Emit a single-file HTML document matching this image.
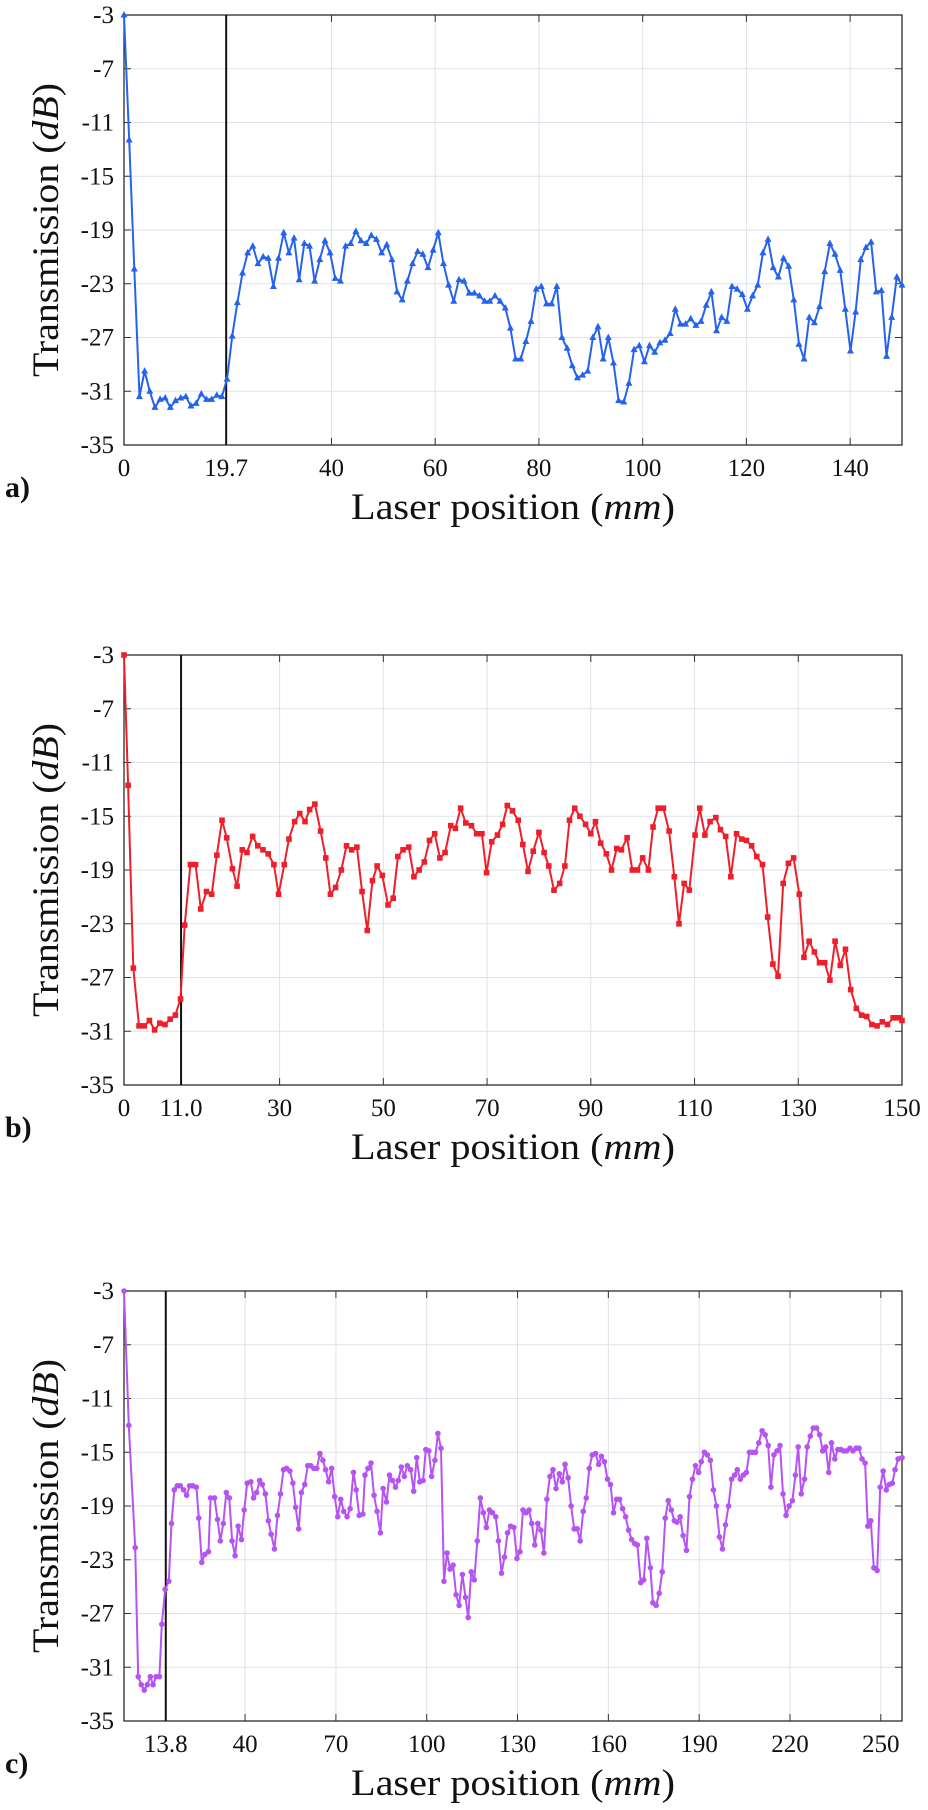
<!DOCTYPE html>
<html><head><meta charset="utf-8">
<style>
html,body{margin:0;padding:0;background:#fff;}
svg{display:block;}
text{font-family:"Liberation Serif",serif;fill:#111;}
</style></head>
<body>
<svg id="fig" width="928" height="1810" viewBox="0 0 928 1810" xmlns="http://www.w3.org/2000/svg"></svg>
<script>
// ---------- data ----------
const yTicks = [-3,-7,-11,-15,-19,-23,-27,-31,-35];
const aTickVals = [0,19.7,40,60,80,100,120,140];
const aTickLabels = ["0","19.7","40","60","80","100","120","140"];
const bTickVals = [0,11,30,50,70,90,110,130,150];
const bTickLabels = ["0","11.0","30","50","70","90","110","130","150"];
const cTickVals = [13.8,40,70,100,130,160,190,220,250];
const cTickLabels = ["13.8","40","70","100","130","160","190","220","250"];
const aMarker = 19.7, bMarker = 11.0, cMarker = 13.8;

const aValues = [-3,-12.3,-21.9,-31.4,-29.5,-31.0,-32.2,-31.6,-31.5,-32.2,-31.7,-31.5,-31.4,-32.1,-31.9,-31.2,-31.6,-31.6,-31.3,-31.4,-30.1,-26.9,-24.4,-22.2,-20.7,-20.2,-21.5,-21.0,-21.1,-23.2,-21.1,-19.2,-20.7,-19.6,-22.7,-20.0,-20.2,-22.8,-21.2,-19.8,-20.7,-22.6,-22.8,-20.2,-20.0,-19.1,-19.8,-20.0,-19.4,-19.7,-20.7,-20.1,-21.2,-23.6,-24.2,-22.8,-21.5,-20.6,-20.8,-21.8,-20.5,-19.2,-21.5,-23.1,-24.3,-22.7,-22.8,-23.7,-23.7,-23.9,-24.3,-24.3,-23.9,-24.3,-24.8,-26.3,-28.6,-28.6,-27.3,-25.8,-23.4,-23.2,-24.5,-24.5,-23.2,-27.0,-27.8,-29.1,-30.0,-29.8,-29.5,-27.0,-26.2,-28.6,-27.0,-28.9,-31.7,-31.8,-30.4,-27.9,-27.6,-28.8,-27.6,-28.1,-27.4,-27.2,-26.7,-24.9,-26.0,-26.0,-25.6,-26.1,-25.8,-24.6,-23.6,-26.5,-25.5,-25.8,-23.2,-23.4,-23.8,-24.9,-23.9,-23.1,-20.7,-19.7,-21.8,-22.5,-21.1,-21.7,-24.2,-27.5,-28.6,-25.5,-25.9,-24.7,-22.1,-20.0,-20.8,-22.0,-24.9,-28.0,-25.1,-21.2,-20.3,-19.9,-23.6,-23.5,-28.4,-25.5,-22.5,-23.1];
const aRange = 150;

const bX = [0,0.8,1.8,2.9,3.9,4.9,5.9,6.9,7.9,8.9,9.9,10.9,11.7,12.8,13.8,14.8,15.9,16.9,17.9,18.9,19.8,20.9,21.8,22.8,23.7,24.8,25.8,26.8,27.8,28.9,29.8,30.9,31.8,32.9,33.9,34.9,35.8,36.8,37.9,38.9,39.8,40.8,41.9,42.9,43.9,44.9,45.9,46.9,47.9,48.8,49.8,50.9,51.9,52.8,53.8,54.9,55.9,56.9,57.9,58.9,59.9,60.9,61.9,63.0,63.9,64.9,65.9,67.0,68.0,69.0,69.9,70.9,72.0,73.0,73.9,74.9,76.0,76.9,77.9,78.9,80.0,81.0,81.9,82.9,84.0,85.0,85.9,86.9,87.9,89.0,90.0,90.9,91.9,93.0,94.0,95.0,95.9,97.0,98.0,99.0,100.0,101.1,102.0,103.0,104.0,105.1,106.1,107.0,108.0,109.0,110.1,111.0,112.0,113.0,114.1,115.0,116.0,117.0,118.1,119.1,120.0,121.0,122.0,123.1,124.1,125.1,126.1,127.1,128.1,129.1,130.2,131.1,132.1,133.1,134.1,135.1,136.1,137.1,138.1,139.1,140.1,141.2,142.2,143.2,144.2,145.2,146.2,147.2,148.3,149.3,150.0];
const bValues = [-3,-12.7,-26.3,-30.6,-30.6,-30.2,-30.9,-30.4,-30.5,-30.1,-29.8,-28.6,-23.1,-18.6,-18.6,-21.9,-20.6,-20.8,-17.9,-15.3,-16.6,-18.9,-20.2,-17.5,-17.7,-16.5,-17.2,-17.5,-17.8,-18.6,-20.8,-18.6,-16.7,-15.4,-14.8,-15.4,-14.5,-14.1,-16.1,-18.1,-20.8,-20.3,-19.0,-17.2,-17.5,-17.3,-20.6,-23.5,-19.8,-18.7,-19.4,-21.6,-21.1,-18.0,-17.5,-17.3,-19.5,-19.0,-18.4,-16.8,-16.3,-18.1,-17.7,-15.7,-15.9,-14.4,-15.5,-15.7,-16.3,-16.3,-19.2,-16.9,-16.4,-15.6,-14.2,-14.6,-15.3,-17.1,-19.1,-17.6,-16.2,-17.7,-18.7,-20.5,-20.0,-18.7,-15.3,-14.4,-15.0,-15.6,-16.3,-15.4,-17.0,-17.8,-19.0,-17.4,-17.5,-16.6,-19.0,-19.0,-18.1,-19.0,-15.8,-14.4,-14.4,-16.1,-19.5,-23.0,-20.0,-20.5,-16.4,-14.4,-16.4,-15.4,-15.1,-16.0,-16.5,-19.5,-16.3,-16.7,-16.8,-17.2,-18.0,-18.6,-22.5,-26.0,-26.9,-20.0,-18.5,-18.1,-20.8,-25.5,-24.3,-25.1,-25.9,-25.9,-27.2,-24.3,-26.1,-24.9,-27.9,-29.3,-29.8,-29.9,-30.5,-30.6,-30.3,-30.5,-30.0,-30.0,-30.2];
const bRange = 150;

const cX = [0,1.6,3.7,4.7,5.7,6.7,7.7,8.7,9.6,10.6,11.7,12.5,13.6,14.8,15.7,16.6,17.6,18.6,19.7,20.7,21.7,22.7,23.9,24.7,25.7,26.7,27.9,28.6,29.9,30.9,31.8,32.8,33.8,34.8,35.7,36.7,37.7,38.8,39.7,40.7,41.9,42.8,43.8,44.8,45.7,46.7,47.7,48.6,49.7,50.7,51.7,52.7,53.7,54.8,55.8,56.7,57.7,58.6,59.7,60.7,61.7,62.7,63.7,64.7,65.7,66.6,67.6,68.6,69.6,70.6,71.6,72.6,73.7,74.7,75.8,76.7,77.7,78.9,79.6,80.6,81.6,82.6,83.6,84.7,85.6,86.7,87.7,88.7,89.7,90.6,91.6,92.6,93.6,94.7,95.7,96.7,97.7,98.8,99.7,100.7,101.6,102.7,103.7,104.7,105.7,106.7,107.7,108.7,109.7,110.7,111.8,112.8,113.7,114.7,115.7,116.7,117.7,118.7,119.7,120.7,121.7,122.8,123.7,124.7,125.7,126.7,127.7,128.8,129.8,130.8,131.8,132.8,133.8,134.7,135.7,136.7,137.7,138.7,139.7,140.7,141.7,142.7,143.8,144.8,145.7,146.7,147.7,148.7,149.7,150.7,151.7,152.7,153.7,154.7,155.8,156.8,157.7,158.7,159.7,160.7,161.7,162.7,163.7,164.7,165.7,166.7,167.7,168.7,169.6,170.7,171.7,172.7,173.9,174.7,175.8,176.8,177.8,178.8,179.8,180.8,181.8,182.7,183.7,184.7,185.8,186.8,187.8,188.8,189.8,190.7,191.7,192.7,193.7,194.7,195.7,196.7,197.7,198.7,199.7,200.7,201.7,202.6,203.6,204.6,205.6,206.6,207.6,208.6,209.7,210.8,211.8,212.8,213.7,214.7,215.7,216.7,217.7,218.7,219.7,220.8,221.8,222.7,223.7,224.8,225.7,226.7,227.7,228.8,229.8,230.8,231.8,232.8,233.7,234.8,235.8,236.8,237.7,238.7,239.8,240.8,241.8,242.8,243.8,244.8,245.7,246.7,247.7,248.8,249.8,250.8,251.8,252.8,253.8,254.7,255.7,257.0];
const cValues = [-3,-13,-22.1,-31.7,-32.3,-32.7,-32.3,-31.7,-32.3,-31.7,-31.7,-27.8,-25.2,-24.6,-20.3,-17.8,-17.5,-17.5,-17.8,-18.2,-17.5,-17.5,-17.6,-19.9,-23.2,-22.6,-22.4,-18.4,-18.4,-20.0,-21.6,-20.3,-18.0,-18.4,-21.6,-22.7,-20.5,-21.5,-19.3,-17.3,-17.2,-18.4,-18.0,-17.1,-17.4,-18.1,-20.1,-21.1,-22.2,-19.7,-18.1,-16.3,-16.2,-16.4,-17.3,-19.1,-20.7,-18.0,-17.4,-16.0,-16.0,-16.2,-16.2,-15.1,-15.6,-16.3,-17.2,-16.2,-18.3,-19.8,-18.5,-19.4,-19.8,-19.2,-16.5,-17.8,-19.7,-19.6,-16.7,-16.2,-15.8,-18.2,-19.4,-21.0,-17.7,-18.7,-16.7,-17.1,-17.6,-17.1,-16.1,-16.8,-16.0,-16.3,-17.9,-15.4,-17.2,-17.1,-14.8,-14.9,-16.8,-15.6,-13.6,-14.7,-24.6,-22.5,-23.7,-23.4,-25.6,-26.4,-24.1,-25.8,-27.3,-23.9,-24.5,-21.6,-18.4,-19.5,-20.6,-19.3,-19.5,-19.8,-21.6,-24.0,-22.8,-21.0,-20.5,-20.6,-22.9,-22.4,-19.3,-19.5,-19.3,-20.3,-21.9,-20.3,-20.8,-22.5,-18.5,-16.8,-16.3,-17.7,-16.6,-17.2,-15.9,-16.9,-19.0,-20.7,-20.7,-21.6,-19.4,-18.4,-16.2,-15.2,-15.1,-15.9,-15.3,-15.7,-17.0,-17.4,-19.5,-18.5,-18.5,-19.2,-19.8,-20.8,-21.5,-21.8,-21.9,-24.7,-24.5,-21.4,-23.6,-26.2,-26.4,-25.5,-23.9,-19.9,-18.6,-19.3,-20.1,-20.2,-19.8,-21.2,-22.3,-18.3,-17.0,-16.0,-16.5,-15.7,-15.0,-15.2,-15.6,-17.8,-19.0,-21.3,-22.2,-20.4,-19.0,-17.0,-16.7,-16.3,-17.0,-16.7,-16.5,-15.0,-15.0,-15.0,-14.3,-13.4,-13.7,-14.5,-17.6,-15.2,-14.9,-14.5,-18.1,-19.7,-19.0,-18.6,-16.7,-14.6,-18.1,-17.0,-14.6,-13.8,-13.2,-13.2,-13.7,-14.9,-14.6,-16.5,-14.3,-15.5,-14.8,-14.8,-14.9,-14.9,-14.7,-14.9,-14.7,-14.7,-15.5,-15.8,-20.5,-20.1,-23.6,-23.8,-17.6,-16.4,-17.8,-17.4,-17.3,-16.3,-15.5,-15.4];
const cRange = 257;

// ---------- drawing ----------
const NS = "http://www.w3.org/2000/svg";
const svg = document.getElementById('fig');
function mk(tag, attrs, parent){
  const e = document.createElementNS(NS, tag);
  for (const k in attrs) e.setAttribute(k, attrs[k]);
  (parent||svg).appendChild(e);
  return e;
}
const L = 124, R = 902;

function panel(opt){
  const g = mk('g', {});
  
  
  const T = opt.top, B = opt.top + 430;
  const xs = v => L + (R - L) * v / opt.xmax;
  const ys = v => T + (B - T) * (-3 - v) / 32;
  yTicks.forEach(t => {
    if (t === -3 || t === -35) return;
    const gl = mk('line', {x1:L, x2:R, y1:ys(t), y2:ys(t), stroke:'#dde3ea', 'stroke-width':1}, g);
    
    
  });
  opt.ticks.forEach(t => {
    if (t <= 0 || t >= opt.xmax) return;
    const gl = mk('line', {x1:xs(t), x2:xs(t), y1:T, y2:B, stroke:'#dde3ea', 'stroke-width':1}, g);
    
    
  });
  yTicks.forEach(t => {
    mk('line', {x1:L, x2:L+7, y1:ys(t), y2:ys(t), stroke:'#333', 'stroke-width':1}, g);
    mk('line', {x1:R-7, x2:R, y1:ys(t), y2:ys(t), stroke:'#333', 'stroke-width':1}, g);
    const tl = mk('text', {x:L-10, y:ys(t)+8, 'text-anchor':'end', 'font-size':25}, g);
    
    
    tl.textContent = String(t);
  });
  opt.ticks.forEach((t,i) => {
    mk('line', {x1:xs(t), x2:xs(t), y1:B, y2:B-7, stroke:'#333', 'stroke-width':1}, g);
    mk('line', {x1:xs(t), x2:xs(t), y1:T, y2:T+7, stroke:'#333', 'stroke-width':1}, g);
    const tl = mk('text', {x:xs(t), y:B+31, 'text-anchor':'middle', 'font-size':25}, g);
    
    
    tl.textContent = opt.labels[i];
  });
  const fr = mk('rect', {x:L, y:T, width:R-L, height:B-T, fill:'none', stroke:'#2b2b2b', 'stroke-width':1.3}, g);
  
  
  const vm = mk('line', {x1:xs(opt.marker), x2:xs(opt.marker), y1:T, y2:B, stroke:'#111', 'stroke-width':2}, g);
  
  
  const pts = opt.vals.map((v,i) => [xs(opt.xv(i)), ys(v)]);
  const pl = mk('polyline', {points: pts.map(p => p[0].toFixed(1)+','+p[1].toFixed(1)).join(' '), fill:'none', stroke:opt.color, 'stroke-width':2, 'stroke-linejoin':'round'}, g);
  
  
  pts.forEach(p => {
    let m;
    if (opt.shape === 'tri') m = mk('polygon', {points: `${p[0]},${p[1]-4} ${p[0]-3.5},${p[1]+2.5} ${p[0]+3.5},${p[1]+2.5}`, fill:opt.color}, g);
    else if (opt.shape === 'sq') m = mk('rect', {x:p[0]-2.8, y:p[1]-2.8, width:5.6, height:5.6, fill:opt.color}, g);
    else m = mk('circle', {cx:p[0], cy:p[1], r:2.8, fill:opt.color}, g);
    
    
  });
  const xl = mk('text', {x:(L+R)/2, y:B+74, 'text-anchor':'middle', 'font-size':37, textLength:324, lengthAdjust:'spacingAndGlyphs'}, g);
  
  
  xl.innerHTML = 'Laser position (<tspan font-style="italic">mm</tspan>)';
  const yl = mk('text', {x:0, y:0, 'text-anchor':'middle', 'font-size':37, textLength:294, lengthAdjust:'spacingAndGlyphs', transform:`translate(58 ${(T+B)/2}) rotate(-90)`}, g);
  
  
  yl.innerHTML = 'Transmission (<tspan font-style="italic">dB</tspan>)';
  const pl2 = mk('text', {x:5, y:B+52, 'font-size':30, 'font-weight':'bold'}, g);
  
  
  pl2.textContent = opt.tag;
}

panel({name:'panel-a', top:15, xmax:aRange, ticks:aTickVals, labels:aTickLabels, marker:aMarker,
  vals:aValues, xv:i => i*aRange/(aValues.length-1), color:'#2563ec', shape:'tri', tag:'a)'});
panel({name:'panel-b', top:655, xmax:bRange, ticks:bTickVals, labels:bTickLabels, marker:bMarker,
  vals:bValues, xv:i => bX[i], color:'#ee1f2b', shape:'sq', tag:'b)'});
panel({name:'panel-c', top:1291, xmax:cRange, ticks:cTickVals, labels:cTickLabels, marker:cMarker,
  vals:cValues, xv:i => cX[i], color:'#b653f2', shape:'circ', tag:'c)'});
</script>
</body></html>
